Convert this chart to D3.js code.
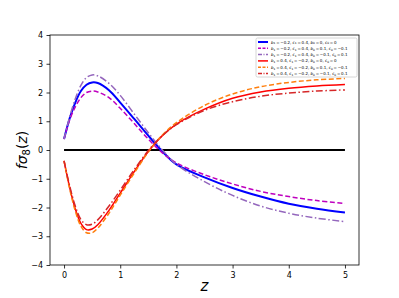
<!DOCTYPE html>
<html>
<head>
<meta charset="utf-8">
<script src="https://cdn.jsdelivr.net/npm/d3@7"></script>
<style>
  body { margin: 0; background: #fff; }
  svg { font-family: "DejaVu Sans", sans-serif; }
</style>
</head>
<body>
<div id="chart"></div>
<script>
// values
var zs = [0, 0.1, 0.2, 0.3, 0.4, 0.5, 0.6, 0.8, 1.0, 1.25, 1.5, 1.75, 2, 2.5, 3, 3.5, 4, 4.5, 5];

var blue   = [0.38, 1.1, 1.65, 2.05, 2.27, 2.35, 2.33, 2.08, 1.65, 1.08, 0.5, -0.05, -0.5, -0.95, -1.32, -1.62, -1.87, -2.04, -2.17];
var pink   = [0.38, 1.05, 1.5, 1.82, 2.0, 2.05, 2.02, 1.82, 1.45, 0.92, 0.38, -0.1, -0.45, -0.86, -1.18, -1.44, -1.62, -1.76, -1.86];
var purple = [0.38, 1.15, 1.78, 2.25, 2.52, 2.61, 2.58, 2.32, 1.9, 1.25, 0.6, 0.0, -0.5, -1.1, -1.58, -1.95, -2.2, -2.37, -2.49];
var red    = [-0.38, -1.3, -2.05, -2.55, -2.77, -2.75, -2.6, -2.1, -1.5, -0.75, -0.05, 0.5, 0.9, 1.42, 1.8, 2.02, 2.15, 2.23, 2.28];
var orange = [-0.38, -1.35, -2.12, -2.65, -2.88, -2.88, -2.72, -2.2, -1.57, -0.8, -0.07, 0.52, 0.95, 1.55, 1.95, 2.2, 2.35, 2.44, 2.49];
var darkred = [-0.38, -1.25, -1.95, -2.42, -2.6, -2.58, -2.43, -1.95, -1.4, -0.68, -0.02, 0.5, 0.88, 1.38, 1.68, 1.87, 1.98, 2.05, 2.09];

var xTicks = [0, 1, 2, 3, 4, 5];
var yTicks = [-4, -3, -2, -1, 0, 1, 2, 3, 4];

// legend labels: [b1, c1, b0, c0]
var legendParams = [
  ["\u22120.2", "0.4", "0", "0"],
  ["\u22120.2", "0.4", "0.1", "\u22120.1"],
  ["\u22120.2", "0.4", "\u22120.1", "0.1"],
  ["0.4", "\u22120.2", "0", "0"],
  ["0.4", "\u22120.2", "0.1", "\u22120.1"],
  ["0.4", "\u22120.2", "\u22120.1", "0.1"]
];

var series = [
  { values: blue,    color: "#0000ff", dash: null,            width: 2 },
  { values: pink,    color: "#bf00bf", dash: "5,2.5",         width: 1.5 },
  { values: purple,  color: "#9467bd", dash: "7,2.5,1.5,2.5", width: 1.5 },
  { values: red,     color: "#ff0000", dash: null,            width: 1.5 },
  { values: orange,  color: "#ff7f0e", dash: "5,2.5",         width: 1.5 },
  { values: darkred, color: "#d62728", dash: "7,2.5,1.5,2.5", width: 1.5 }
];

var W = 399, H = 298;
var margin = { top: 35, right: 40, bottom: 33, left: 50 };
var width = W - margin.left - margin.right;
var height = H - margin.top - margin.bottom;

var svg = d3.select("#chart").append("svg")
  .attr("width", W)
  .attr("height", H);

var g = svg.append("g")
  .attr("transform", "translate(" + margin.left + "," + margin.top + ")");

var x = d3.scaleLinear().domain([-0.25, 5.25]).range([0, width]);
var y = d3.scaleLinear().domain([-4, 4]).range([height, 0]);

// clip to axes
g.append("clipPath").attr("id", "clip")
  .append("rect").attr("width", width).attr("height", height);

var plot = g.append("g").attr("clip-path", "url(#clip)");

// zero line
plot.append("line")
  .attr("x1", x(0)).attr("x2", x(5))
  .attr("y1", y(0)).attr("y2", y(0))
  .attr("stroke", "#000").attr("stroke-width", 2);

var line = d3.line()
  .x(function (d, i) { return x(zs[i]); })
  .y(function (d) { return y(d); })
  .curve(d3.curveCatmullRom.alpha(0.5));

series.forEach(function (s) {
  plot.append("path")
    .datum(s.values)
    .attr("fill", "none")
    .attr("stroke", s.color)
    .attr("stroke-width", s.width)
    .attr("stroke-dasharray", s.dash)
    .attr("d", line);
});

// axes
var fmt = function (d) { return d < 0 ? "\u2212" + (-d) : String(d); };
var xAxis = d3.axisBottom(x).tickValues(xTicks).tickSize(3.5).tickPadding(3.5).tickFormat(fmt);
var yAxis = d3.axisLeft(y).tickValues(yTicks).tickSize(3.5).tickPadding(3.5).tickFormat(fmt);

var gx = g.append("g").attr("transform", "translate(0," + height + ")").call(xAxis);
var gy = g.append("g").call(yAxis);
[gx, gy].forEach(function (a) {
  a.select(".domain").remove();
  a.selectAll("text").style("font-size", "8px").attr("fill", "#000")
    .style("font-family", "DejaVu Sans");
  a.selectAll("line").attr("stroke", "#000").attr("stroke-width", 0.8);
});

// frame
g.append("rect")
  .attr("width", width).attr("height", height)
  .attr("fill", "none").attr("stroke", "#000").attr("stroke-width", 0.8);

// axis labels
svg.append("text")
  .attr("x", margin.left + x(2.5)).attr("y", 291)
  .attr("text-anchor", "middle")
  .style("font-size", "15px").style("font-style", "italic")
  .text("z");

var yl = svg.append("text")
  .attr("transform", "translate(27," + (margin.top + height / 2) + ") rotate(-90)")
  .attr("text-anchor", "middle")
  .style("font-size", "14px");
yl.append("tspan").style("font-style", "italic").text("f\u03c3");
yl.append("tspan").attr("font-size", "10px").attr("dy", 3).text("8");
yl.append("tspan").attr("dy", -3).text("(");
yl.append("tspan").style("font-style", "italic").text("z");
yl.append("tspan").text(")");

// legend
var lg = svg.append("g").attr("transform", "translate(256,38)");
lg.append("rect")
  .attr("width", 101).attr("height", 39).attr("rx", 1.5)
  .attr("fill", "#fff").attr("fill-opacity", 0.8)
  .attr("stroke", "#ccc").attr("stroke-width", 0.8);

legendParams.forEach(function (p, i) {
  var s = series[i];
  var yy = 4 + i * 6.3;
  lg.append("line")
    .attr("x1", 2).attr("x2", 12).attr("y1", yy).attr("y2", yy)
    .attr("stroke", s.color).attr("stroke-width", s.width)
    .attr("stroke-dasharray", s.dash ? (s.dash === "5,2.5" ? "3,1.5" : "4,1.5,1,1.5") : null);
  var t = lg.append("text")
    .attr("x", 15).attr("y", yy + 1.5)
    .style("font-size", "4px").attr("fill", "#000");
  var names = ["b", "c", "b", "c"], subs = ["1", "1", "0", "0"];
  for (var k = 0; k < 4; k++) {
    t.append("tspan").style("font-style", "italic").text(names[k]);
    t.append("tspan").attr("font-size", "2.9px").attr("dy", 0.9).text(subs[k]);
    t.append("tspan").attr("dy", -0.9).text("\u2009=\u2009" + p[k] + (k < 3 ? ", " : ""));
  }
});
</script>
</body>
</html>
